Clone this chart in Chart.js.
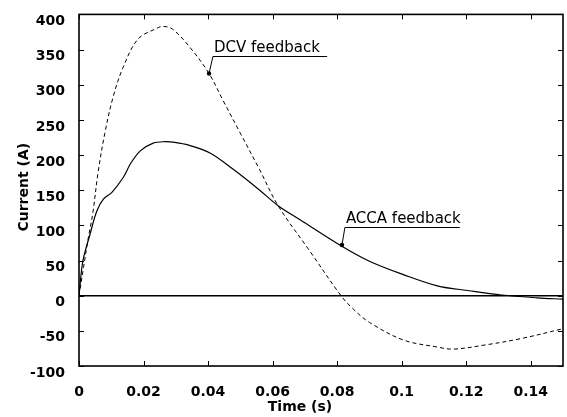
<!DOCTYPE html>
<html>
<head>
<meta charset="utf-8">
<script src="https://cdn.jsdelivr.net/npm/chart.js@4.4.1/dist/chart.umd.min.js"></script>
<style>
  html, body { margin: 0; padding: 0; background: #fff; }
  #wrap { width: 567px; height: 417px; }
</style>
</head>
<body>
<div id="wrap"><canvas id="chart-current" width="567" height="417"></canvas></div>
<script>
// values
const dcvTime = [0, 0.0014, 0.0028, 0.0043, 0.0059, 0.008, 0.0106, 0.0137, 0.0183, 0.024, 0.026, 0.029,
    0.0344, 0.0403, 0.0446, 0.050, 0.056, 0.0617, 0.0716, 0.0812, 0.085, 0.090, 0.1005, 0.111, 0.116,
    0.126, 0.137, 0.15];
const dcvCurrent = [0, 40, 80, 118, 175, 231, 283, 325, 365, 380, 383, 379,
    353, 316, 278, 231, 179, 128, 63, 0, -19, -38, -63, -73, -76,
    -70, -61, -47];

const accaTime = [0, 0.0012, 0.0034, 0.0055, 0.0075, 0.0102, 0.0137, 0.016, 0.019, 0.023, 0.0267, 0.0297,
    0.034, 0.0406, 0.0477, 0.056, 0.0617, 0.0685, 0.0812, 0.090, 0.1005, 0.111, 0.121, 0.131, 0.142, 0.15];
const accaCurrent = [0, 49, 87, 120, 137, 147, 168, 188, 206, 217, 219, 218,
    214, 203, 180, 150, 128, 108, 71, 49, 30, 14, 7, 1, -3, -5];

const zeroTime = [0, 0.15];
const zeroCurrent = [0, 0];

const xTicks = [0, 0.02, 0.04, 0.06, 0.08, 0.1, 0.12, 0.14];
const xTickLabels = ['0', '0.02', '0.04', '0.06', '0.08', '0.1', '0.12', '0.14'];
const yTicks = [-100, -50, 0, 50, 100, 150, 200, 250, 300, 350, 400];

// callouts: point on the curve, elbow of the leader, end of the underline
const callouts = [
    { text: 'DCV feedback', t: 0.0403, v: 316, elbowT: 0.0415, elbowV: 341, endT: 0.0769 },
    { text: 'ACCA feedback', t: 0.0815, v: 72, elbowT: 0.0824, elbowV: 98, endT: 0.118 }
];

function toPoints(xs, ys) {
    return xs.map((x, i) => ({ x: x, y: ys[i] }));
}

const boxPlugin = {
    id: 'box',
    afterDatasetsDraw(chart) {
        const ctx = chart.ctx;
        const a = chart.chartArea;
        const xs = chart.scales.x;
        const ys = chart.scales.y;
        ctx.save();
        ctx.strokeStyle = '#000';

        // inward ticks on all four sides
        ctx.lineWidth = 1;
        ctx.beginPath();
        xTicks.forEach(t => {
            const px = Math.round(xs.getPixelForValue(t)) + 0.5;
            ctx.moveTo(px, a.bottom); ctx.lineTo(px, a.bottom - 5);
            ctx.moveTo(px, a.top); ctx.lineTo(px, a.top + 5);
        });
        yTicks.forEach(v => {
            const py = Math.round(ys.getPixelForValue(v)) + 0.5;
            ctx.moveTo(a.left, py); ctx.lineTo(a.left + 5, py);
            ctx.moveTo(a.right, py); ctx.lineTo(a.right - 5, py);
        });
        ctx.stroke();

        // frame
        ctx.lineWidth = 1.6;
        ctx.strokeRect(a.left, a.top, a.right - a.left, a.bottom - a.top);

        // callouts
        ctx.lineWidth = 1;
        ctx.fillStyle = '#000';
        ctx.font = '15px "DejaVu Sans"';
        ctx.textBaseline = 'alphabetic';
        callouts.forEach(c => {
            const px = xs.getPixelForValue(c.t), py = ys.getPixelForValue(c.v);
            const ex = xs.getPixelForValue(c.elbowT), ey = Math.round(ys.getPixelForValue(c.elbowV)) + 0.5;
            const endX = xs.getPixelForValue(c.endT);
            ctx.beginPath();
            ctx.moveTo(px, py); ctx.lineTo(ex, ey); ctx.lineTo(endX, ey);
            ctx.stroke();
            ctx.beginPath();
            ctx.arc(px, py, 2.2, 0, Math.PI * 2);
            ctx.fill();
            ctx.fillText(c.text, ex + 1, ey - 5);
        });

        // axis titles
        ctx.font = 'bold 14px "DejaVu Sans"';
        ctx.textAlign = 'center';
        ctx.textBaseline = 'middle';
        ctx.fillText('Time (s)', (a.left + a.right) / 2 - 21, 407);
        ctx.translate(24, (a.top + a.bottom) / 2 - 3);
        ctx.rotate(-Math.PI / 2);
        ctx.fillText('Current (A)', 0, 0);
        ctx.restore();
    }
};

new Chart(document.getElementById('chart-current'), {
    type: 'line',
    data: {
        datasets: [
            {
                label: 'DCV feedback',
                data: toPoints(dcvTime, dcvCurrent),
                borderColor: '#000',
                borderWidth: 1,
                borderDash: [4, 3],
                pointRadius: 0,
                tension: 0.35
            },
            {
                label: 'ACCA feedback',
                data: toPoints(accaTime, accaCurrent),
                borderColor: '#000',
                borderWidth: 1.2,
                pointRadius: 0,
                tension: 0.35
            },
            {
                label: 'zero',
                data: toPoints(zeroTime, zeroCurrent),
                borderColor: '#000',
                borderWidth: 1.4,
                pointRadius: 0
            }
        ]
    },
    options: {
        responsive: false,
        animation: false,
        devicePixelRatio: 1,
        layout: { padding: { top: 10, right: 4, left: 0, bottom: 0 } },
        plugins: {
            legend: { display: false },
            tooltip: { enabled: false }
        },
        scales: {
            x: {
                type: 'linear',
                min: 0,
                max: 0.15,
                grid: { display: false },
                border: { display: false },
                afterBuildTicks: (scale) => { scale.ticks = xTicks.map(v => ({ value: v })); },
                afterFit: (scale) => { scale.height = 51; },
                ticks: {
                    padding: 10,
                    maxRotation: 0,
                    autoSkip: false,
                    color: '#000',
                    font: { family: '"DejaVu Sans"', size: 14, weight: 'bold' },
                    callback: (value) => {
                        const i = xTicks.indexOf(value);
                        return i >= 0 ? xTickLabels[i] : '';
                    }
                }
            },
            y: {
                type: 'linear',
                min: -100,
                max: 400,
                grid: { display: false },
                border: { display: false },
                afterBuildTicks: (scale) => { scale.ticks = yTicks.map(v => ({ value: v })); },
                afterFit: (scale) => { scale.width = 79; },
                ticks: {
                    padding: 6,
                    labelOffset: 7,
                    autoSkip: false,
                    color: '#000',
                    font: { family: '"DejaVu Sans"', size: 14, weight: 'bold' }
                }
            }
        }
    },
    plugins: [boxPlugin]
});
</script>
</body>
</html>
